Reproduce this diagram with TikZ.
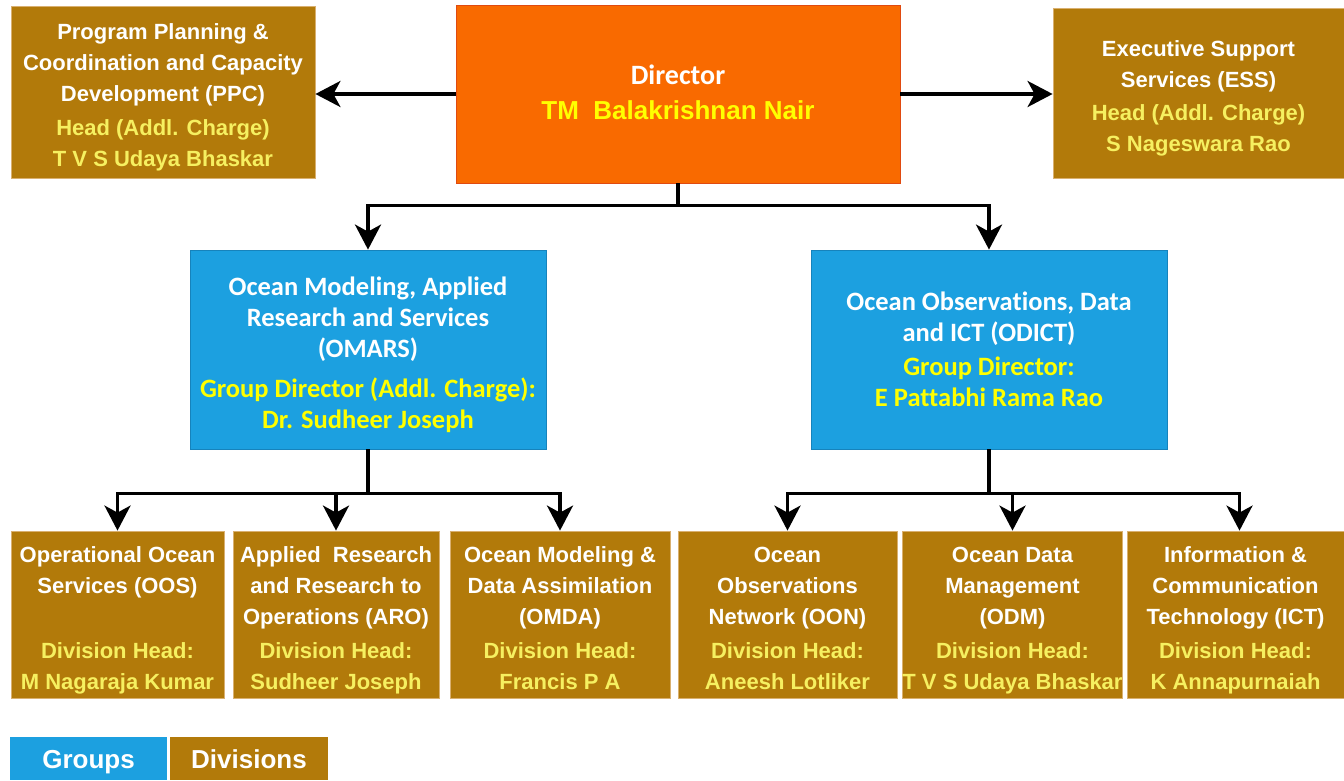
\documentclass[tikz,border=0pt]{standalone}
\usepackage{fontspec}
\setmainfont{Liberation Sans}
\newfontfamily\carl[Ligatures={NoCommon}]{Carlito}
\usetikzlibrary{arrows.meta}
\definecolor{divbrown}{HTML}{B27A0A}
\definecolor{divedge}{HTML}{D9B070}
\definecolor{grpblue}{HTML}{1CA0E0}
\definecolor{grpedge}{HTML}{1683BC}
\definecolor{dirorange}{HTML}{F96A00}
\definecolor{diredge}{HTML}{E04A10}
\definecolor{yel}{HTML}{FFFF00}
\definecolor{lyel}{HTML}{F6F060}
\newcommand\yl[1]{\textcolor{lyel}{#1}}
\newcommand\yy[1]{\textcolor{yel}{#1}}
\newcommand\tp[1]{\rule{0pt}{#1pt}}
\newcommand\bt{\rule[-8pt]{0pt}{8pt}}
\tikzset{
  box/.style={draw, line width=0.8pt, inner sep=0pt, align=center, text=white,
    font=\bfseries\fontsize{22}{31}\selectfont},
  divbox/.style={box, fill=divbrown, draw=divedge, minimum height=167pt},
  topbox/.style={box, fill=divbrown, draw=divedge},
  grpbox/.style={box, fill=grpblue, draw=grpedge, minimum width=356pt, minimum height=199pt,
    font=\carl\bfseries\fontsize{26.5}{31}\selectfont},
  dirbox/.style={box, fill=dirorange, draw=diredge, minimum width=444pt, minimum height=178pt},
  legbox/.style={draw=none, inner sep=0pt, align=center, text=white, minimum height=43pt,
    text height=25pt, text depth=6pt,
    font=\bfseries\fontsize{26}{31}\selectfont},
  arr/.style={line width=3.5pt, -{Stealth[length=25pt,width=26pt,inset=7pt]}},
}
\begin{document}
\begin{tikzpicture}[x=1pt,y=-1pt]
\useasboundingbox (0,0) rectangle (1344,780);
% top row
\node[dirbox] (dir) at (678,94) {\tp{23}{\carl\fontsize{28}{31}\selectfont Director}\\[4pt]
  {\fontsize{26}{31}\selectfont\yy{TM\ \ Balakrishnan Nair}}\bt};
\node[topbox, minimum width=304pt, minimum height=172pt] (ppc) at (163,92)
  {\tp{29}Program Planning \&\\Coordination and Capacity\\Development (PPC)\\[3pt]
   \yl{Head (Addl. Charge)}\\\yl{T V S Udaya Bhaskar}\bt};
\node[topbox, minimum width=291pt, minimum height=170pt] (ess) at (1198.5,93)
  {\tp{29}Executive Support\\Services (ESS)\\[2pt]\yl{Head (Addl. Charge)}\\\yl{S Nageswara Rao}\bt};
% groups
\node[grpbox] (omars) at (368,349.5)
  {\tp{33}Ocean Modeling, Applied\\Research and Services\\(OMARS)\\[9pt]
   \yy{Group Director (Addl. Charge):}\\\yy{Dr. Sudheer Joseph}\bt};
\node[grpbox] (odict) at (989,349.5)
  {\tp{26}Ocean Observations, Data\\and ICT (ODICT)\\[3pt]
   \yy{Group Director:}\\\yy{E Pattabhi Rama Rao}\bt};
% divisions
\node[divbox, minimum width=213pt] (oos) at (117.5,614.5)
  {\tp{30}Operational Ocean\\Services (OOS)\\ \\[3pt]\yl{Division Head:}\\\yl{M Nagaraja Kumar}\bt};
\node[divbox, minimum width=206pt] (aro) at (336,614.5)
  {\tp{30}Applied\ \ Research\\and Research to\\Operations (ARO)\\[3pt]\yl{Division Head:}\\\yl{Sudheer Joseph}\bt};
\node[divbox, minimum width=220pt] (omda) at (560,614.5)
  {\tp{30}Ocean Modeling \&\\Data Assimilation\\(OMDA)\\[3pt]\yl{Division Head:}\\\yl{Francis P A}\bt};
\node[divbox, minimum width=219pt] (oon) at (787.5,614.5)
  {\tp{30}Ocean\\Observations\\Network (OON)\\[3pt]\yl{Division Head:}\\\yl{Aneesh Lotliker}\bt};
\node[divbox, minimum width=215pt] (odm) at (1012.5,614.5)
  {\tp{30}Ocean Data\\Management\\(ODM)\\[3pt]\yl{Division Head:}\\\yl{T V S Udaya Bhaskar}\bt};
\node[divbox, minimum width=217pt] (ict) at (1235.5,614.5)
  {\tp{30}Information \&\\Communication\\Technology (ICT)\\[3pt]\yl{Division Head:}\\\yl{K Annapurnaiah}\bt};
% legend
\node[legbox, fill=grpblue, minimum width=157pt] (lgroups) at (88.5,758.5) {Groups};
\node[legbox, fill=divbrown, minimum width=158pt] (ldivs) at (249,758.5) {Divisions};
% connectors
\draw[arr] (dir.west) -- (dir.west -| ppc.east);
\draw[arr] (dir.east) -- (dir.east -| ess.west);
\coordinate (dj) at ([yshift=-22pt]dir.south);
\draw[arr] (dir.south) -- (dj) -| (omars.north);
\draw[arr] (dj) -| (odict.north);
\coordinate (oj) at ([yshift=-44pt]omars.south);
\draw[arr] (omars.south) -- (oj) -| (oos.north);
\draw[arr] (oj) -| (aro.north);
\draw[arr] (oj) -| (omda.north);
\coordinate (rj) at ([yshift=-44pt]odict.south);
\draw[arr] (odict.south) -- (rj) -| (oon.north);
\draw[arr] (rj) -| (odm.north);
\draw[arr] (rj) -| ([xshift=4pt]ict.north);
\end{tikzpicture}
\end{document}
